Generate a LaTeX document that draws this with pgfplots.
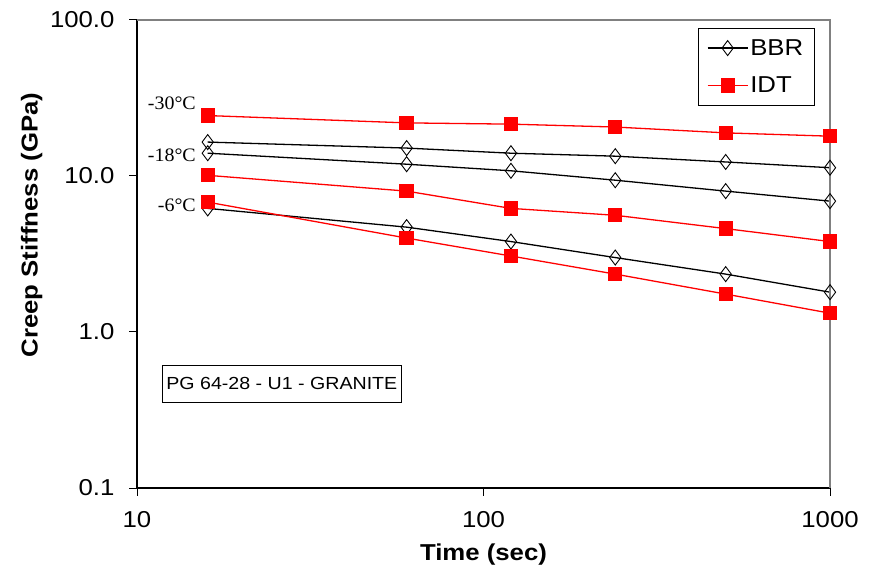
\documentclass[border=0pt]{standalone}
\usepackage{fontspec}
\setmainfont[FakeStretch=1.12]{Liberation Sans}
\newfontfamily\serifT[FakeStretch=1.05]{Liberation Serif}
\usepackage{pgfplots}
\pgfplotsset{compat=1.18}

\definecolor{idtred}{RGB}{255,0,0}

\begin{document}
\begin{tikzpicture}
\begin{axis}[
  scale only axis,
  width=693pt, height=468pt,
  xmode=log, ymode=log,
  xmin=10, xmax=1000, ymin=0.1, ymax=100,
  xtick={10,100,1000}, xticklabels={10,100,1000},
  ytick={0.1,1,10,100}, yticklabels={0.1,1.0,10.0,100.0},
  xminorticks=false, yminorticks=false,
  tick align=outside, tick pos=left,
  major tick length=8pt,
  tick style={black, line width=1pt},
  axis line style={black, line width=1.3pt},
  /pgf/number format/assume math mode=true,
  ticklabel style={font=\fontsize{23}{25}\selectfont},
  xticklabel style={yshift=-12pt},
  yticklabel style={xshift=-11pt},
  xlabel={\bfseries Time (sec)},
  ylabel={\bfseries Creep Stiffness (GPa)},
  label style={font=\fontsize{23}{26}\selectfont},
  xlabel style={at={(axis description cs:0.5,-0.143)}, anchor=center},
  ylabel style={at={(axis description cs:-0.152,0.562)}, anchor=center},
  clip=false,
  legend style={at={(axis description cs:0.978,0.983)}, anchor=north east,
    draw=black, line width=1pt, font=\fontsize{23}{25}\selectfont,
    inner xsep=9pt, inner ysep=9pt, row sep=16pt},
  legend cell align=left,
  legend image code/.code={
    \draw[#1, mark repeat=2, mark phase=2] plot coordinates {(0pt,0pt) (20pt,0pt) (40pt,0pt)};
  },
]
% BBR
\addplot[black, line width=1.3pt, mark=diamond, mark size=7.5pt,
  mark options={fill=white, line width=0.9pt}] coordinates {
  (16,16.5) (60,15.1) (120,14.0) (240,13.4) (500,12.3) (1000,11.3)
};
\addlegendentry{BBR}
% IDT
\addplot[idtred, line width=1.3pt, mark=square*, mark size=6.5pt,
  mark options={fill=idtred, draw=idtred}] coordinates {
  (16,24.4) (60,21.9) (120,21.5) (240,20.6) (500,18.9) (1000,18.0)
};
\addlegendentry{IDT}
\addplot[black, line width=1.3pt, mark=diamond, mark size=7.5pt,
  mark options={fill=white, line width=0.9pt}, forget plot] coordinates {
  (16,14.0) (60,11.9) (120,10.8) (240,9.4) (500,8.0) (1000,6.9)
};
\addplot[idtred, line width=1.3pt, mark=square*, mark size=6.5pt,
  mark options={fill=idtred, draw=idtred}, forget plot] coordinates {
  (16,10.1) (60,8.0) (120,6.2) (240,5.6) (500,4.6) (1000,3.8)
};
\addplot[black, line width=1.3pt, mark=diamond, mark size=7.5pt,
  mark options={fill=white, line width=0.9pt}, forget plot] coordinates {
  (16,6.2) (60,4.7) (120,3.8) (240,3.0) (500,2.35) (1000,1.80)
};
\addplot[idtred, line width=1.3pt, mark=square*, mark size=6.5pt,
  mark options={fill=idtred, draw=idtred}, forget plot] coordinates {
  (16,6.8) (60,4.0) (120,3.07) (240,2.35) (500,1.75) (1000,1.32)
};
% plot area border (top, right)
\draw[gray, line width=1.2pt] (rel axis cs:0,1) -- (rel axis cs:1,1) -- (rel axis cs:1,0);
% temperature labels
\node[anchor=east, font=\serifT\fontsize{19}{21}\selectfont, inner sep=0pt] at (axis cs:14.8,29.4) {-30°C};
\node[anchor=east, font=\serifT\fontsize{19}{21}\selectfont, inner sep=0pt] at (axis cs:14.8,13.6) {-18°C};
\node[anchor=east, font=\serifT\fontsize{19}{21}\selectfont, inner sep=0pt] at (axis cs:14.8,6.5) {-6°C};
% sample box
\node[draw=black, line width=1pt, anchor=center, minimum width=232pt, minimum height=37pt,
  inner xsep=4pt, font=\fontsize{17.5}{20}\selectfont] at (axis description cs:0.209,0.223) {PG 64-28 - U1 - GRANITE};
\end{axis}
\pgfresetboundingbox
\path[use as bounding box] (-137pt,-87pt) rectangle (732pt,488pt);
\end{tikzpicture}
\end{document}
